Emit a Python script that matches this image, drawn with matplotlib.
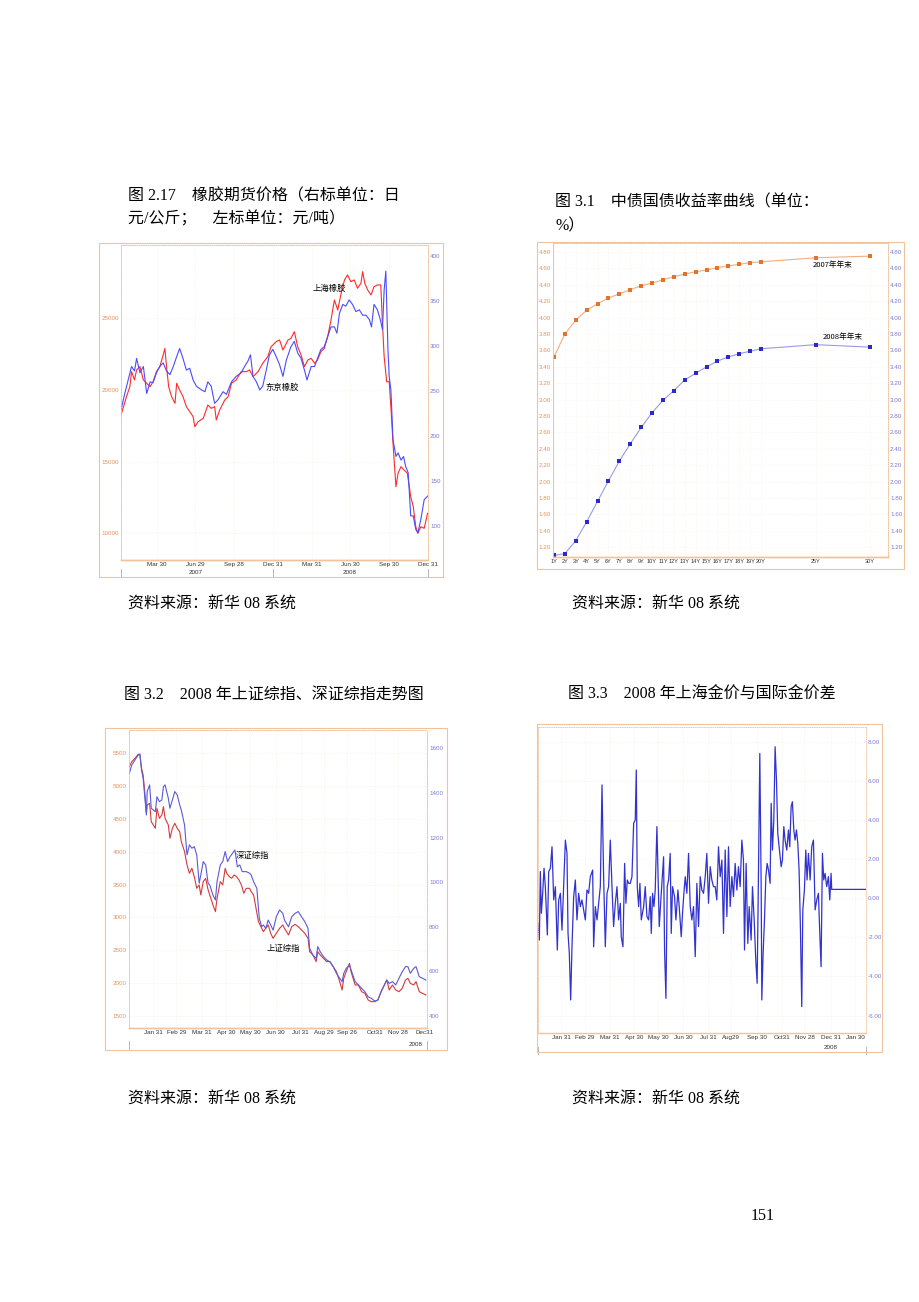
import matplotlib
matplotlib.use('Agg')
import matplotlib.pyplot as plt
from matplotlib.patches import Rectangle
import pandas as pd

# ---- 图 2.17 橡胶期货价格 (days from 2007-01-04) ----
rub_start = '2007-01-04'
sh_rub_day = [0, 6, 13, 21, 25, 32, 37, 45, 53, 61, 69, 76, 84, 92, 100, 104, 108, 113, 120, 128,
              132, 139, 147, 155, 163, 171, 175, 183, 195, 206, 214, 222, 226, 234, 246, 254, 262, 273, 285, 297,
              305, 313, 325, 336, 348, 356, 368, 376, 384, 396, 403, 411, 419, 427, 435, 443, 451, 459, 466, 474,
              482, 490, 498, 506, 514, 522, 530, 537, 545, 553, 561, 569, 573, 578, 585, 593, 600, 608, 616, 620,
              624, 630, 636, 640, 645, 652, 657, 664, 671, 679, 687, 693, 699, 704, 711, 719, 727]
sh_rub = [18256, 18840, 19535, 20230, 21280, 20700, 21400, 21630, 20700, 20465, 20230, 20580, 21280, 21630,
          22440, 22900, 21630, 20230, 19535, 19070, 20465, 20000, 19535, 18840, 18490, 18140, 17440, 17790,
          18020, 18950, 18720, 18840, 17910, 18600, 19300, 19535, 20465, 20700, 21280, 21280, 21400, 20930,
          21280, 21860, 22330, 23020, 23370, 23490, 22790, 23490, 23600, 24070, 23020, 22440, 21630, 22090,
          22210, 21860, 22090, 22670, 22900, 23720, 24880, 26280, 25580, 26750, 27680, 28030, 27560, 27680,
          27100, 27450, 28260, 27450, 26980, 26630, 27210, 27330, 27330, 24650, 22330, 20580, 20580, 18840,
          16280, 13250, 14190, 14650, 14420, 14190, 12560, 11860, 10460, 10000, 10460, 10350, 11400]
tk_rub_day = [0, 9, 17, 25, 32, 37, 45, 53, 61, 69, 76, 84, 92, 100, 108, 116, 124, 132, 139, 147,
              155, 163, 171, 179, 191, 199, 206, 214, 222, 230, 242, 250, 262, 273, 285, 293, 301, 307, 313, 321,
              329, 336, 344, 352, 360, 368, 376, 384, 392, 403, 411, 419, 427, 435, 441, 451, 459, 466, 474, 482,
              490, 498, 506, 512, 518, 526, 533, 541, 549, 557, 565, 573, 581, 589, 594, 600, 608, 615, 620, 624,
              628, 633, 636, 640, 645, 652, 657, 664, 670, 675, 681, 687, 693, 699, 704, 711, 719, 727]
tk_rub = [229, 247, 262, 277, 272, 286, 270, 277, 247, 260, 259, 270, 277, 281, 272, 268, 277, 288, 297, 286,
          273, 275, 262, 255, 251, 249, 260, 255, 236, 240, 249, 246, 260, 266, 270, 277, 283, 290, 266, 260,
          251, 255, 272, 290, 296, 288, 279, 266, 284, 299, 305, 292, 286, 273, 262, 277, 277, 286, 296, 299,
          310, 321, 321, 314, 336, 346, 344, 351, 346, 338, 340, 334, 334, 329, 321, 346, 340, 329, 318, 362,
          383, 296, 266, 251, 196, 177, 181, 173, 177, 166, 159, 111, 111, 96, 92, 107, 129, 133]
rub_ticks = ['2007-03-30', '2007-06-29', '2007-09-28', '2007-12-31',
             '2008-03-31', '2008-06-30', '2008-09-30', '2008-12-31']
rub_tick_labels = ['Mar 30', 'Jun 29', 'Sep 28', 'Dec 31', 'Mar 31', 'Jun 30', 'Sep 30', 'Dec 31']

# ---- 图 3.1 中债国债收益率曲线 ----
tenor = [1, 2, 3, 4, 5, 6, 7, 8, 9, 10, 11, 12, 13, 14, 15, 16, 17, 18, 19, 20, 25, 30]
yield_2007 = [3.52, 3.80, 3.97, 4.09, 4.17, 4.24, 4.29, 4.34, 4.39, 4.42, 4.46, 4.50, 4.53, 4.56,
              4.58, 4.61, 4.63, 4.65, 4.67, 4.68, 4.73, 4.75]
yield_2008 = [1.10, 1.12, 1.28, 1.51, 1.76, 2.01, 2.25, 2.46, 2.66, 2.84, 2.99, 3.11, 3.24, 3.32,
              3.40, 3.47, 3.52, 3.56, 3.59, 3.62, 3.67, 3.64]
yield_ticks = [1.2, 1.4, 1.6, 1.8, 2.0, 2.2, 2.4, 2.6, 2.8, 3.0, 3.2, 3.4, 3.6, 3.8, 4.0, 4.2, 4.4, 4.6, 4.8]

# ---- 图 3.2 上证综指 / 深证综指 (days from 2008-01-02) ----
idx_start = '2008-01-02'
sh_day = [0, 3, 7, 11, 13, 15, 17, 19, 21, 22, 25, 27, 32, 34, 37, 40, 42, 44, 48, 50,
          53, 56, 59, 62, 64, 68, 71, 74, 77, 80, 83, 86, 88, 91, 94, 97, 99, 103, 106, 108,
          112, 115, 118, 120, 123, 126, 129, 132, 135, 138, 141, 144, 148, 150, 153, 156, 159, 162, 165, 168,
          171, 174, 177, 181, 185, 189, 191, 196, 200, 204, 208, 212, 216, 220, 222, 226, 230, 232, 235, 239,
          243, 247, 251, 255, 259, 262, 264, 267, 271, 273, 278, 282, 286, 290, 294, 298, 302, 306, 310, 314,
          317, 320, 324, 328, 332, 336, 340, 343, 346, 350, 353, 357, 361, 365]
sh_index = [5297, 5373, 5424, 5485, 5475, 5272, 5170, 4916, 4586, 4713, 4739, 4459, 4358, 4663, 4510, 4561,
            4688, 4510, 4409, 4206, 4358, 4434, 4358, 4307, 4155, 4003, 3800, 3673, 3749, 3622, 3444, 3495,
            3343, 3546, 3596, 3419, 3343, 3190, 3089, 3292, 3546, 3495, 3749, 3673, 3622, 3596, 3647, 3622,
            3571, 3495, 3368, 3444, 3444, 3394, 3343, 3140, 2937, 2860, 2784, 2835, 2886, 2759, 2683, 2759,
            2835, 2886, 2835, 2734, 2860, 2896, 2860, 2810, 2759, 2683, 2480, 2429, 2328, 2480, 2429, 2378,
            2328, 2328, 2251, 2175, 2023, 1896, 2074, 2175, 2302, 2175, 1972, 1972, 1870, 1845, 1744, 1718,
            1718, 1744, 1870, 1972, 2048, 1896, 1972, 1896, 1870, 1921, 2048, 2074, 1997, 1972, 2023, 1870,
            1845, 1820]
sz_day = [0, 3, 7, 11, 13, 15, 17, 19, 21, 22, 25, 27, 32, 34, 37, 40, 42, 44, 48, 50,
          53, 56, 59, 62, 64, 68, 71, 74, 77, 80, 83, 86, 88, 91, 94, 97, 99, 103, 106, 108,
          112, 115, 118, 121, 124, 127, 130, 133, 136, 139, 144, 148, 150, 153, 157, 160, 163, 165, 168, 171,
          174, 177, 181, 185, 189, 191, 196, 200, 204, 208, 212, 216, 220, 222, 226, 230, 232, 235, 239, 243,
          247, 251, 255, 259, 262, 264, 267, 271, 273, 278, 282, 286, 290, 294, 298, 302, 306, 310, 314, 317,
          320, 324, 328, 332, 336, 340, 343, 346, 350, 353, 357, 361, 365]
sz_index = [1488, 1525, 1548, 1570, 1575, 1503, 1465, 1383, 1301, 1406, 1436, 1331, 1316, 1383, 1361, 1368,
            1428, 1436, 1376, 1331, 1368, 1406, 1391, 1346, 1323, 1256, 1122, 1167, 1152, 1159, 1122, 995,
            1032, 1092, 1077, 995, 987, 942, 920, 1002, 1077, 1092, 1137, 1092, 1114, 1129, 1144, 1069,
            1077, 1047, 1047, 1040, 1032, 1002, 972, 838, 800, 808, 793, 830, 808, 785, 845, 875,
            860, 830, 800, 845, 860, 868, 845, 823, 793, 703, 673, 658, 711, 688, 666, 651,
            643, 621, 591, 569, 554, 591, 613, 628, 606, 554, 539, 524, 509, 486, 479, 467,
            471, 509, 539, 561, 546, 554, 539, 569, 598, 621, 621, 591, 613, 621, 576, 569, 561]
idx_ticks = ['2008-01-31', '2008-02-29', '2008-03-31', '2008-04-30', '2008-05-30', '2008-06-30',
             '2008-07-31', '2008-08-29', '2008-09-26', '2008-10-31', '2008-11-28', '2008-12-31']
idx_tick_labels = ['Jan 31', 'Feb 29', 'Mar 31', 'Apr 30', 'May 30', 'Jun 30', 'Jul 31',
                   'Aug 29', 'Sep 26', 'Oct31', 'Nov 28', 'Dec31']

# ---- 图 3.3 上海金价与国际金价差 (days from 2008-01-01) ----
gold_start = '2008-01-01'
gold_day = [1.0, 2.7, 3.9, 5.2, 6.8, 8.5, 10.1, 12.6, 14.3, 16.4, 18.4, 20.5, 22.6, 25.0, 26.7, 28.8,
            30.8, 32.5, 35.0, 37.0, 38.3, 39.9, 41.6, 43.2, 45.3, 47.4, 49.4, 51.5, 53.6, 55.6, 57.7, 59.8,
            61.8, 63.9, 66.0, 68.9, 70.1, 72.2, 74.3, 76.3, 78.4, 80.5, 82.5, 84.6, 86.7, 88.7, 90.8, 92.9,
            94.9, 97.0, 99.1, 101.1, 103.2, 104.4, 106.5, 108.6, 110.2, 111.9, 113.5, 115.6, 117.7, 119.8,
            121.8, 123.1, 124.3, 126.0, 127.6, 129.3, 132.2, 134.2, 136.3, 138.4, 140.4, 141.7, 143.3, 145.0,
            146.6, 148.7, 149.9, 151.6, 154.1, 157.0, 158.2, 159.9, 161.5, 163.2, 165.2, 166.5, 168.1, 170.6,
            172.3, 174.8, 176.4, 178.9, 180.5, 182.2, 183.9, 185.9, 188.0, 190.1, 192.1, 194.2, 196.3, 198.3,
            200.4, 202.5, 204.5, 206.6, 208.7, 210.7, 212.8, 214.9, 216.9, 219.0, 221.1, 223.1, 225.2, 227.3,
            229.4, 231.4, 233.5, 235.6, 237.6, 239.7, 241.8, 243.8, 245.9, 248.0, 250.0, 252.1, 254.2, 256.2,
            257.5, 259.5, 261.6, 263.3, 265.7, 267.4, 269.5, 271.5, 273.2, 274.9, 276.5, 278.2, 279.0, 280.6,
            282.3, 284.0, 285.6, 287.3, 289.3, 290.6, 292.2, 293.9, 295.5, 297.2, 298.8, 300.5, 303.0, 304.6,
            306.3, 307.9, 310.0, 312.1, 313.7, 315.4, 317.0, 318.7, 320.3, 322.0, 323.7, 325.3, 327.0, 328.6,
            329.9, 331.9, 333.6, 335.2, 336.9, 339.0, 341.0, 343.1, 345.2, 347.2, 349.3, 351.0, 352.6, 354.3,
            355.9, 357.6, 359.6, 361.7, 363.4, 365.0, 365.8, 408.4]
gold_diff = [-1.28, -2.14, 1.36, -0.77, 0.25, 1.53, 0.59, -1.88, 1.36, 1.53, 2.63, -0.09, 0.59, -2.65, -0.09, 0.25,
             -1.63, 0.25, 2.97, 2.29, -1.80, -2.82, -5.20, -2.48, 0.08, 0.93, -1.11, 0.25, -0.43, -0.09, -0.60, -1.11,
             0.42, 0.25, 1.10, 1.44, -2.48, -0.43, -1.11, -0.26, 0.59, 5.79, 1.10, -2.48, 0.25, 0.59, 2.97, 0.59,
             -1.45, -0.26, 0.59, -1.11, -0.26, -1.97, -2.48, 1.78, -0.26, 0.93, 0.76, 0.76, 1.10, 3.83,
             4.00, 6.55, 0.59, -0.43, 0.76, -1.11, -0.43, 0.59, -0.94, -1.11, 0.08, -1.80, 0.25, -0.43,
             0.42, 3.66, 1.61, -1.45, 0.25, 2.12, -2.65, -5.12, 0.59, 0.93, 2.29, -1.80, 0.59, 0.08,
             -1.11, 0.42, -0.43, -1.97, -0.77, 0.25, 1.10, 0.25, 2.29, -0.43, -1.11, -0.43, -2.99, 0.76,
             -1.45, 1.10, 0.42, 0.25, 1.10, 2.29, -0.26, 1.61, 0.93, 0.59, 0.59, -0.09, 2.63, 1.10,
             1.95, -1.80, 2.46, -0.94, 2.63, -0.43, 1.10, 0.08, 1.78, 0.42, 1.61, 0.59, 2.97, 1.95,
             -2.65, 1.78, -2.31, -0.43, -2.14, 0.59, -1.11, -3.16, -4.35, 1.44, 7.40, 0.59, -5.20, -2.82,
             -1.11, 1.10, 1.78, 1.44, 0.76, 4.85, 2.46, 4.00, 7.74, 6.04, 3.32, 2.63, 1.61, 1.95,
             3.66, 2.97, 2.46, 3.49, 2.63, 4.68, 4.93, 3.49, 2.97, 3.49, 2.80, 1.44, -1.63, -5.54,
             -0.60, 0.42, 2.46, 0.93, 2.29, 0.93, 2.63, 2.97, -0.60, -0.09, 0.25, -1.80, -3.50, 2.29,
             0.93, 1.27, 0.59, 1.10, -0.09, 1.27, 0.45, 0.45]
gold_ticks = ['2008-01-31', '2008-02-29', '2008-03-31', '2008-04-30', '2008-05-30', '2008-06-30', '2008-07-31',
              '2008-08-29', '2008-09-30', '2008-10-31', '2008-11-28', '2008-12-31', '2009-01-30']
gold_tick_labels = ['Jan 31', 'Feb 29', 'Mar 31', 'Apr 30', 'May 30', 'Jun 30', 'Jul 31',
                    'Aug29', 'Sep 30', 'Oct31', 'Nov 28', 'Dec 31', 'Jan 30']
gold_yticks = [-6, -4, -2, 0, 2, 4, 6, 8]

W, H = 920, 1302
TEXT_FONT = ['Liberation Serif', 'Noto Sans CJK SC']
LABEL_FONT = ['Noto Sans CJK SC', 'DejaVu Sans']
TICK_FONT = ['Liberation Sans Narrow', 'Liberation Sans', 'DejaVu Sans']
ORANGE = '#f2c29a'
L_ORANGE = '#e8925a'
L_BLUE = '#7b7bd8'

fig = plt.figure(figsize=(W / 100, H / 100), dpi=100)
fig.patch.set_facecolor('white')


def rect(x0, y0, x1, y1):
    return [x0 / W, 1 - y1 / H, (x1 - x0) / W, (y1 - y0) / H]


def box(x0, y0, x1, y1):
    fig.patches.append(Rectangle((x0 / W, 1 - y1 / H), (x1 - x0) / W, (y1 - y0) / H,
                                 transform=fig.transFigure, fill=False, ec=ORANGE, lw=0.8))


def ftext(x, y, s, size=11.5, ha='left'):
    fig.text(x / W, 1 - y / H, s, fontsize=size, family=TEXT_FONT, ha=ha, va='center')


def days(base, dates):
    return list((pd.to_datetime(dates) - pd.Timestamp(base)).days)


def style(ax):
    for side in ['left', 'right', 'top']:
        ax.spines[side].set_color(ORANGE)
        ax.spines[side].set_linestyle(':')
        ax.spines[side].set_linewidth(0.6)
    ax.spines['bottom'].set_color(ORANGE)
    ax.spines['bottom'].set_linewidth(1.0)
    ax.grid(True, color='#f2ead6', ls=':', lw=0.4)
    ax.tick_params(length=0, labelsize=4.5, pad=1.5, colors='#333333')
    for t in ax.get_xticklabels() + ax.get_yticklabels():
        t.set_family(TICK_FONT)


def color_ticks(ax, color):
    for t in ax.get_yticklabels():
        t.set_color(color)
        t.set_family(TICK_FONT)


def sep_marks(ax, xs, y):
    for x in xs:
        ax.plot([x, x], [y - 0.01, y - 0.035], transform=ax.get_xaxis_transform(),
                color='#aaaaaa', lw=0.6, clip_on=False)


# ---------- 图 2.17 ----------
box(99, 243, 443, 577)
ax1 = fig.add_axes(rect(121, 245, 428, 560))
ax1.plot(sh_rub_day, sh_rub, color='#ff2a2a', lw=0.8)
ax1.set_ylim(8137, 30118)
ax1.set_yticks([10000, 15000, 20000, 25000])
ax1.set_xlim(0, 728)
ax1.set_xticks(days(rub_start, rub_ticks))
ax1.set_xticklabels(rub_tick_labels)
style(ax1)
color_ticks(ax1, L_ORANGE)
ax1b = ax1.twinx()
ax1b.plot(tk_rub_day, tk_rub, color='#4b4bff', lw=0.8)
ax1b.set_ylim(62, 412)
ax1b.set_yticks([100, 150, 200, 250, 300, 350, 400])
style(ax1b)
color_ticks(ax1b, L_BLUE)
ax1b.grid(False)
yr = ax1.get_xaxis_transform()
ax1.text(days(rub_start, ['2007-06-29'])[0], -0.041, '2007', transform=yr, fontsize=4.5,
         family=TICK_FONT, ha='center', va='center', color='#333333')
ax1.text(days(rub_start, ['2008-06-30'])[0], -0.041, '2008', transform=yr, fontsize=4.5,
         family=TICK_FONT, ha='center', va='center', color='#333333')
sep_marks(ax1, [0] + days(rub_start, ['2007-12-31', '2008-12-31']), -0.02)
ax1.text(0.68, 0.863, '上海橡胶', transform=ax1.transAxes, fontsize=6, family=LABEL_FONT,
         ha='center', va='center')
ax1.text(0.524, 0.549, '东京橡胶', transform=ax1.transAxes, fontsize=6, family=LABEL_FONT,
         ha='center', va='center')

# ---------- 图 3.1 ----------
box(537, 242, 904, 569)
ax2 = fig.add_axes(rect(553, 243, 888, 557))
ax2.plot(tenor, yield_2007, color='#f3ad80', lw=0.8, marker='s', ms=2.8, mew=0,
         mfc='#e0732e')
ax2.plot(tenor, yield_2008, color='#9a9ae6', lw=0.8, marker='s', ms=2.8, mew=0,
         mfc='#2a2ac8')
ax2.set_xlim(0.91, 31.65)
ax2.set_ylim(1.08, 4.91)
ax2.set_xticks(tenor)
ax2.set_xticklabels([f'{t}Y' for t in tenor])
ax2.set_yticks(yield_ticks)
ax2.set_yticklabels([f'{v:.2f}' for v in yield_ticks])
style(ax2)
ax2.grid(True, color='#f6eedc', ls=':', lw=0.4)
ax2.spines['left'].set_linestyle('-')
color_ticks(ax2, L_ORANGE)
for t in ax2.get_xticklabels():
    t.set_fontsize(4)
ax2b = ax2.twinx()
ax2b.set_ylim(1.08, 4.91)
ax2b.set_yticks(yield_ticks)
ax2b.set_yticklabels([f'{v:.2f}' for v in yield_ticks])
style(ax2b)
ax2b.grid(False)
color_ticks(ax2b, L_BLUE)
ax2.text(0.836, 0.93, '2007年年末', transform=ax2.transAxes, fontsize=5.5, family=LABEL_FONT,
         ha='center', va='center')
ax2.text(0.866, 0.70, '2008年年末', transform=ax2.transAxes, fontsize=5.5, family=LABEL_FONT,
         ha='center', va='center')

# ---------- 图 3.2 ----------
box(105, 728, 447, 1050)
ax3 = fig.add_axes(rect(129, 730, 427, 1028))
ax3.plot(sh_day, sh_index, color='#d43a3a', lw=0.8)
ax3.set_ylim(1317, 5855)
ax3.set_yticks([1500, 2000, 2500, 3000, 3500, 4000, 4500, 5000, 5500])
ax3.set_xlim(-0.4, 366.5)
ax3.set_xticks(days(idx_start, idx_ticks))
ax3.set_xticklabels(idx_tick_labels)
style(ax3)
color_ticks(ax3, L_ORANGE)
ax3b = ax3.twinx()
ax3b.plot(sz_day, sz_index, color='#5a5ad6', lw=0.8)
ax3b.set_ylim(346, 1682)
ax3b.set_yticks([400, 600, 800, 1000, 1200, 1400, 1600])
style(ax3b)
ax3b.grid(False)
color_ticks(ax3b, L_BLUE)
ax3.text(days(idx_start, ['2008-12-20'])[0], -0.054, '2008', transform=ax3.get_xaxis_transform(),
         fontsize=4.5, family=TICK_FONT, ha='center', va='center', color='#333333')
sep_marks(ax3, [-0.4, 366.5], -0.035)
ax3.text(0.413, 0.58, '深证综指', transform=ax3.transAxes, fontsize=6, family=LABEL_FONT,
         ha='center', va='center')
ax3.text(0.517, 0.268, '上证综指', transform=ax3.transAxes, fontsize=6, family=LABEL_FONT,
         ha='center', va='center')

# ---------- 图 3.3 ----------
box(537, 724, 882, 1052)
ax4 = fig.add_axes(rect(538, 727, 866, 1033))
ax4.plot(gold_day, gold_diff, color='#3232cf', lw=0.9)
ax4.set_xlim(1.0, 408.4)
ax4.set_ylim(-6.89, 8.75)
ax4.set_xticks(days(gold_start, gold_ticks))
ax4.set_xticklabels(gold_tick_labels)
ax4.yaxis.tick_right()
ax4.set_yticks(gold_yticks)
ax4.set_yticklabels([f'{v:.2f}' for v in gold_yticks])
style(ax4)
color_ticks(ax4, L_BLUE)
ax4.text(days(gold_start, ['2008-12-31'])[0], -0.049, '2008', transform=ax4.get_xaxis_transform(),
         fontsize=4.5, family=TICK_FONT, ha='center', va='center', color='#333333')
sep_marks(ax4, [1.0, 408.4], -0.035)

# ---------- 文字 ----------
ftext(128, 196, '图 2.17　橡胶期货价格（右标单位：日')
ftext(128, 219, '元/公斤；　左标单位：元/吨）')
ftext(555, 202, '图 3.1　中债国债收益率曲线（单位：')
ftext(555, 226, '%）')
ftext(128, 605, '资料来源：新华 08 系统')
ftext(572, 605, '资料来源：新华 08 系统')
ftext(124, 695, '图 3.2　2008 年上证综指、深证综指走势图')
ftext(568, 695, '图 3.3　2008 年上海金价与国际金价差')
ftext(128, 1100, '资料来源：新华 08 系统')
ftext(572, 1100, '资料来源：新华 08 系统')
ftext(763, 1216, '151', ha='center')

fig.savefig('out.png', dpi=100, facecolor='white')
